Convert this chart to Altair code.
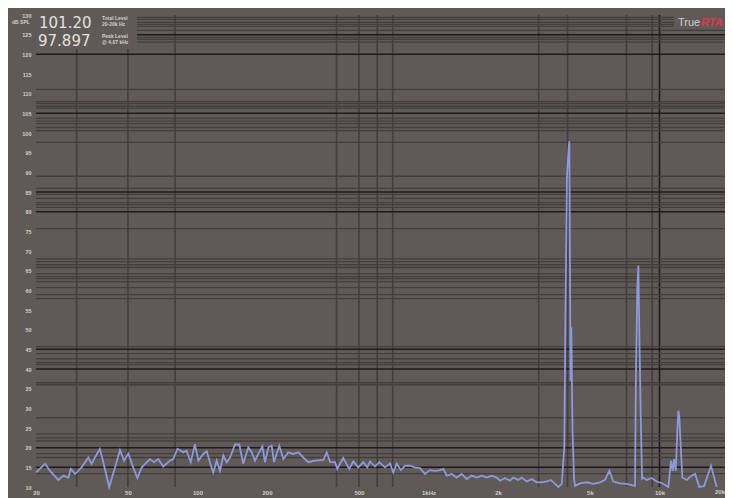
import altair as alt
import pandas as pd

# ---- spectrum ----
freq_hz = [20, 21.9, 23.0, 25.0, 26.3, 27.6, 28.3, 29.5, 31.5, 33.7,
           34.8, 36.0, 37.8, 39.1, 41.5, 44.0, 46.2, 48.1, 50.2, 52.7,
           54.9, 57.4, 62.3, 64.9, 67.6, 71.1, 76.0, 78.5, 81.9, 86.9,
           89.7, 93.5, 97.5, 100.9, 105.9, 109.7, 113.2, 117.1, 121.1, 125.2,
           129.4, 133.8, 138.4, 145.4, 151.7, 157.8, 166.0, 171.8, 177.4, 183.2,
           191.0, 195.9, 202.8, 209.5, 214.4, 226.0, 235.3, 247.3, 260.0, 273.3,
           287.2, 302, 322.8, 350.8, 362.8, 375, 393.6, 402.8, 427.6, 454,
           472.8, 496.6, 522.4, 543.2, 558.4, 587, 612.4, 648.6, 681.6, 704.4,
           728.6, 758.6, 791, 831.8, 874.4, 919, 966.2, 1015, 1067, 1122,
           1159, 1200, 1261, 1325, 1393, 1464, 1538, 1617, 1700, 1787,
           1878, 1974, 2040, 2144, 2254, 2328, 2450, 2534, 2660, 2800,
           2942, 3090, 3250, 3380, 3532, 3648, 3775, 3872, 3918, 3978,
           4038, 4070, 4098, 4120, 4152, 4202, 4266, 4308, 4530, 4842,
           5170, 5530, 5810, 6066, 6312, 6746, 7212, 7584, 7834, 7908,
           8018, 8100, 8180, 8296, 8404, 8512, 8806, 9256, 9728, 10330,
           10920, 11220, 11410, 11560, 11760, 11950, 12070, 12190, 12360, 12560,
           13120, 13790, 14260, 14870, 15590, 16710, 17690]
level_db = [13.7, 15.9, 14.1, 11.8, 12.9, 12.4, 14.6, 13.3, 15.0, 17.5,
            15.9, 17.5, 19.7, 16.3, 10.0, 15.0, 19.4, 16.7, 18.5, 15.0,
            12.3, 15.0, 17.1, 16.3, 17.1, 15.2, 16.7, 17.1, 19.7, 18.8,
            19.2, 16.3, 20.9, 16.7, 18.4, 19.1, 16.3, 13.7, 16.7, 14.1,
            18.0, 16.3, 17.5, 20.8, 20.8, 15.9, 20.1, 18.8, 16.7, 18.4,
            20.3, 16.3, 20.1, 20.5, 16.3, 20.5, 17.1, 18.8, 18.4, 18.8,
            17.5, 16.3, 16.7, 16.9, 18.8, 16.3, 16.3, 14.6, 17.4, 14.6,
            16.5, 15.0, 16.3, 15.0, 16.5, 15.2, 16.3, 15.0, 16.0, 13.7,
            15.9, 14.3, 15.4, 15.4, 15.0, 14.8, 13.3, 14.3, 14.1, 14.3,
            14.6, 12.9, 13.3, 12.4, 13.3, 12.0, 12.9, 12.4, 12.9, 12.4,
            12.9, 12.4, 11.6, 12.3, 11.6, 12.4, 11.8, 12.4, 11.4, 12.0,
            11.2, 11.2, 11.4, 11.8, 10.8, 10.0, 10.8, 20.1, 54.9, 89.2,
            95.6, 97.9, 65.0, 37.0, 50.6, 24.3, 12.1, 10.3, 10.9, 11.2,
            10.8, 11.2, 11.8, 14.1, 11.4, 10.9, 10.8, 10.5, 10.3, 38.8,
            60.8, 66.3, 49.0, 27.7, 12.1, 12.4, 11.8, 12.3, 11.4, 10.9,
            10.0, 16.7, 14.1, 17.1, 14.1, 24.3, 29.4, 27.7, 20.1, 12.4,
            11.8, 12.9, 13.3, 10.0, 10.2, 15.4, 10.0]

# ---- grid lines ----
hline_gray_db = [129.4, 128.9, 128.1, 127.6, 127.1, 126.1, 124.3, 123.8, 123.1,
                 111.1, 108.0, 107.5, 106.8, 106.3, 103.7, 103.0, 102.4, 101.4,
                 100.6, 97.6, 89.0, 85.9, 84.4, 83.4, 82.3, 81.8, 81.1, 75.7,
                 68.0, 67.3, 66.5, 65.8, 64.2, 63.5, 63.0, 62.2, 60.7, 58.9, 57.9,
                 45.7, 43.9, 42.6, 41.6, 41.1, 36.5, 36.0, 27.6, 23.5, 22.5,
                 21.7, 18.5, 17.5, 13.4]
hline_dark_db = [125, 120, 105, 85, 80, 45, 40, 20, 15]
vline_gray_hz = [30, 50, 80, 400, 500, 600, 700, 3000, 4000, 7200, 9300]
vline_dark_hz = [10000]

# ---- axes ----
x_ticks = [20, 50, 100, 200, 500, 1000, 2000, 5000, 10000]
x_tick_labels = ["20", "50", "100", "200", "500", "1kHz", "2k", "5k", "10k"]
x_edge_label = "20k"               # sits at the cut-off right edge
y_ticks = [10, 15, 20, 25, 30, 35, 40, 45, 50, 55, 60, 65, 70, 75, 80, 85, 90,
           95, 100, 105, 110, 115, 120, 125, 130]
x_visible_range_hz = [20, 19210]   # the window cuts the scale just short of 20k

# ---- readout texts ----
readout_main = ["101.20", "97.897"]
readout_small = ["Total Level", "20-20k Hz", "Peak Level", "@ 4.07 kHz"]
unit_text = "dB SPL"
logo_parts = ["True", "RTA"]

BG = "#5f5a58"
GRID = "#433e3c"
DARK = "#1f1a1a"
LABEL = "#d2cecc"

label_expr = " : ".join(
    f"datum.value == {v} ? '{t}'" for v, t in zip(x_ticks, x_tick_labels)
) + " : ''"

xs = alt.Scale(type="log", domain=x_visible_range_hz, nice=False)
ys = alt.Scale(domain=[10, 130], nice=False, zero=False, clamp=True)

x_axis = alt.Axis(values=x_ticks, labelExpr=label_expr, grid=False,
                  domain=False, ticks=False, labelFlush=False,
                  labelOverlap=False, labelBound=False,
                  labelFontSize=6, labelColor=LABEL, labelPadding=2,
                  labelFont="Liberation Sans", labelFontWeight="bold")
y_axis = alt.Axis(values=y_ticks, grid=False, domain=False, ticks=False,
                  labelFontSize=5.5, labelColor=LABEL, labelPadding=5,
                  labelOverlap=False, labelFlush=False, labelBound=False,
                  labelFont="Liberation Sans", labelFontWeight="bold")


def X():
    return alt.X("freq:Q", scale=xs, title=None, axis=x_axis)


def Y():
    return alt.Y("db:Q", scale=ys, title=None, axis=y_axis)


spec = pd.DataFrame({"freq": freq_hz, "db": level_db})

hg = alt.Chart(pd.DataFrame({"db": hline_gray_db})).mark_rule(
    color=GRID, strokeWidth=1.3).encode(y=Y())
hd = alt.Chart(pd.DataFrame({"db": hline_dark_db})).mark_rule(
    color=DARK, strokeWidth=1.5).encode(y=Y())
vg = alt.Chart(pd.DataFrame({"freq": vline_gray_hz})).mark_rule(
    color=GRID, strokeWidth=1.6).encode(x=X())
vd = alt.Chart(pd.DataFrame({"freq": vline_dark_hz})).mark_rule(
    color=DARK, strokeWidth=1.6).encode(x=X())

# boxes hiding grid behind the readout and the logo
cover_readout = alt.Chart(pd.DataFrame({"a": [0]})).mark_rect(color=BG).encode(
    x=alt.value(0), x2=alt.value(101), y=alt.value(-1), y2=alt.value(34))
cover_logo = alt.Chart(pd.DataFrame({"a": [0]})).mark_rect(color=BG).encode(
    x=alt.value(638), x2=alt.value(700), y=alt.value(-1), y2=alt.value(13))

line = alt.Chart(spec).mark_line(color="#8e99d9", strokeWidth=1.8,
                                 strokeJoin="miter").encode(x=X(), y=Y())


def label(text, x, y, size, color=LABEL, weight="normal", align="left",
          font="Liberation Sans", style="normal", baseline="alphabetic"):
    return alt.Chart(pd.DataFrame({"t": [text]})).mark_text(
        align=align, baseline=baseline, fontSize=size, color=color,
        fontWeight=weight, font=font, fontStyle=style).encode(
        text="t:N", x=alt.value(x), y=alt.value(y))


texts = [
    label(readout_main[0], 3, 13, 15, color="#e4e1df", font="DejaVu Sans"),
    label(readout_main[1], 2, 31, 15, color="#e4e1df", font="DejaVu Sans"),
    label(readout_small[0], 66, 5, 5, weight="bold"),
    label(readout_small[1], 66, 11, 5, weight="bold"),
    label(readout_small[2], 66, 23, 5, weight="bold"),
    label(readout_small[3], 66, 29, 5, weight="bold"),
    label(unit_text, -24, 9, 5, weight="bold"),
    label(logo_parts[0], 642, 11, 11, color="#cfcccb"),
    label(logo_parts[1], 665, 11, 11, color="#e0364a", weight="bold",
          style="italic"),
    label(x_edge_label, 689, 474, 6, weight="bold", align="right",
          baseline="top"),
]

chart = alt.layer(vg, vd, hg, hd, cover_readout, cover_logo, line,
                  *texts).properties(
    width=689, height=472, background=BG,
    padding={"left": 28, "top": 7, "right": 0, "bottom": 11},
    autosize=alt.AutoSizeParams(type="none"),
).configure_view(stroke=None, fill=BG).configure_axis(labelOverlap=False)

chart.save("out.html", embed_options={"renderer": "svg", "actions": False})
